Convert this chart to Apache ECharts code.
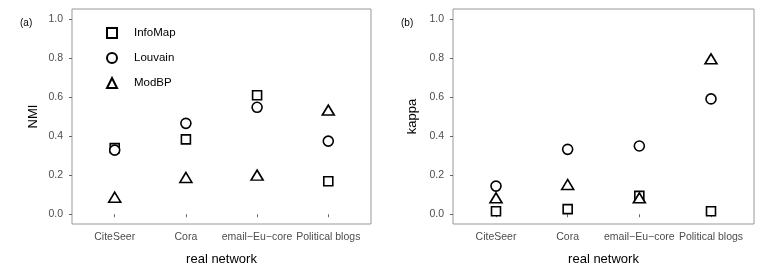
<!DOCTYPE html>
<html><head><meta charset="utf-8">
<script src="https://cdn.jsdelivr.net/npm/echarts@6/dist/echarts.min.js"></script>
<style>html,body{margin:0;padding:0;background:#fff}#c{width:763px;height:273px}</style>
</head><body><div id="c"></div>
<script>
const categories = ['CiteSeer', 'Cora', 'email\u2212Eu\u2212core', 'Political blogs'];
const methods = ['InfoMap', 'Louvain', 'ModBP'];
const yTicks = [0, 0.2, 0.4, 0.6, 0.8, 1.0];
const nmiInfoMap = [0.338, 0.383, 0.609, 0.169];
const nmiLouvain = [0.328, 0.465, 0.547, 0.374];
const nmiModBP   = [0.087, 0.188, 0.200, 0.533];
const kappaInfoMap = [0.015, 0.026, 0.094, 0.015];
const kappaLouvain = [0.144, 0.332, 0.349, 0.590];
const kappaModBP   = [0.084, 0.152, 0.084, 0.795];

const symbols = {InfoMap: 'rect', Louvain: 'circle', ModBP: 'triangle'};
const sizes = {InfoMap: [9, 9], Louvain: [10, 10], ModBP: [12, 10]};
const tickColor = '#4d4d4d';
const font = 'Liberation Sans, Arial, sans-serif';

function pts(arr) { return arr.map((v, i) => [i + 1, v]); }
function mkSeries(name, arr, idx) {
  return {
    name: name, type: 'scatter', xAxisIndex: idx, yAxisIndex: idx,
    data: pts(arr), symbol: symbols[name], symbolSize: sizes[name],
    itemStyle: {color: '#fff', borderColor: '#000', borderWidth: 1.6, opacity: 1},
    emphasis: {disabled: true}, z: 3
  };
}
function xAxis(idx) {
  return {
    type: 'value', gridIndex: idx, min: 0.4, max: 4.6,
    name: 'real network', nameLocation: 'middle', nameGap: 29,
    nameTextStyle: {fontFamily: font, fontSize: 13, color: '#000'},
    axisLine: {show: false}, splitLine: {show: false},
    axisTick: {show: true, length: 3, lineStyle: {color: '#666'}, customValues: [1, 2, 3, 4]},
    axisLabel: {customValues: [1, 2, 3, 4], margin: 8, fontFamily: font, fontSize: 10.5, color: tickColor,
      formatter: v => categories[Math.round(v) - 1]}
  };
}
function yAxis(idx, name, gap) {
  return {
    type: 'value', gridIndex: idx, min: -0.05, max: 1.05,
    name: name, nameLocation: 'middle', nameGap: gap,
    nameTextStyle: {fontFamily: font, fontSize: 13, color: '#000'},
    axisLine: {show: false}, splitLine: {show: false},
    axisTick: {show: true, length: 3, lineStyle: {color: '#666'}, customValues: yTicks},
    axisLabel: {customValues: yTicks, margin: 9, fontFamily: font, fontSize: 10.5, color: tickColor,
      formatter: v => v.toFixed(1)}
  };
}
const chart = echarts.init(document.getElementById('c'), null, {renderer: 'canvas'});
chart.setOption({
  animation: false,
  backgroundColor: '#fff',
  grid: [
    {left: 72, top: 9, width: 299, height: 215, show: true, borderColor: '#999', borderWidth: 1, backgroundColor: 'transparent'},
    {left: 453, top: 9, width: 301, height: 215, show: true, borderColor: '#999', borderWidth: 1, backgroundColor: 'transparent'}
  ],
  xAxis: [xAxis(0), xAxis(1)],
  yAxis: [yAxis(0, 'NMI', 32), yAxis(1, 'kappa', 34)],
  legend: {
    data: methods, orient: 'vertical', left: 101, top: 22, itemWidth: 10, itemHeight: 10, itemGap: 13,
    selectedMode: false,
    textStyle: {fontFamily: font, fontSize: 11.5, color: '#000', padding: [0, 0, 0, 12]}
  },
  graphic: [
    {type: 'text', left: 20, top: 18, style: {text: '(a)', fontFamily: font, fontSize: 10, fill: '#000'}},
    {type: 'text', left: 401, top: 18, style: {text: '(b)', fontFamily: font, fontSize: 10, fill: '#000'}}
  ],
  series: [
    mkSeries('InfoMap', nmiInfoMap, 0),
    mkSeries('Louvain', nmiLouvain, 0),
    mkSeries('ModBP', nmiModBP, 0),
    mkSeries('InfoMap', kappaInfoMap, 1),
    mkSeries('Louvain', kappaLouvain, 1),
    mkSeries('ModBP', kappaModBP, 1)
  ]
});
</script></body></html>
